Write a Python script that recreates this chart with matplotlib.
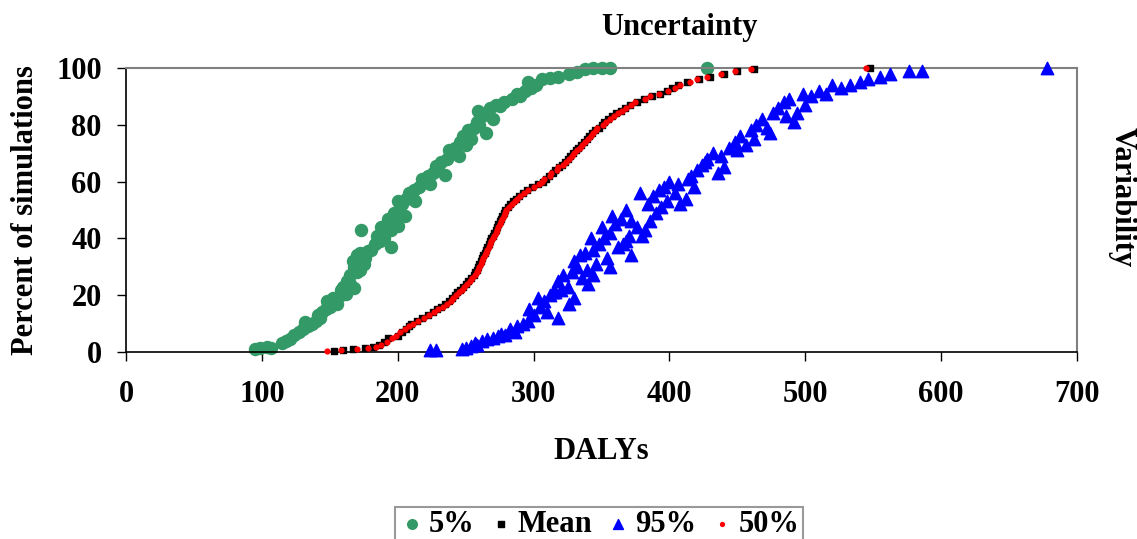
import numpy as np
import matplotlib.pyplot as plt

# values (DALYs, percent of simulations)
p5_x = [95, 99, 104, 107, 115, 118, 121, 124, 127, 130, 134, 137, 140, 132,
        141, 144, 147, 150, 143, 148, 152, 155, 158, 162, 158, 160, 165, 168, 163,
        165, 170, 168, 172, 175, 167, 170, 172, 176, 178, 180, 183, 187, 185, 190, 195,
        173, 188, 192, 195, 198, 200, 193, 197, 201, 205, 203, 200, 206, 210, 213, 208,
        212, 216, 220, 224, 218, 222, 226, 230, 235, 228, 232, 236, 240, 245, 238,
        242, 246, 250, 254, 248, 252, 256, 260, 265, 258, 262, 266, 259, 270, 268,
        272, 278, 284, 290, 275, 288, 294, 298, 302, 296, 306, 312, 318, 326, 332,
        338, 344, 350, 356, 428]
p5_y = [1.0, 1.5, 1.8, 1.5, 3, 4, 4.5, 6, 7, 8, 9, 10, 11, 10.5,
        13, 14, 15, 16, 12, 18, 19, 17, 20, 20.5, 22, 23, 24, 22.5, 25,
        27, 28, 30, 29, 31, 32, 34, 35, 33, 35.5, 36, 38, 39, 41, 40, 37,
        43, 44, 45, 43, 46, 44.5, 47, 49, 50, 48, 52, 53, 54, 55, 53, 56,
        57, 58, 60, 59, 61, 62, 63, 64, 62.5, 65.5, 67, 68, 70, 69, 71,
        72, 74, 73, 75, 76, 78, 79, 80, 77, 81, 83, 84, 85, 82, 86,
        87, 88, 89, 90, 86.5, 91, 92, 93, 94, 95, 96, 96.5, 97, 98, 98.5,
        99.5, 100, 100, 100, 100]

mean_x = [153, 160, 167, 176, 182, 186, 190, 193, 200, 203, 206, 208, 210, 214, 218,
          222, 226, 229, 232, 235, 238, 240, 242, 244, 246, 248, 250, 252, 254, 256,
          257, 258, 259, 260, 261, 262, 263, 264, 265, 266, 267, 268, 269, 270, 271,
          272, 273, 274, 275, 276, 277, 278, 279, 281, 283, 285, 287, 289, 292, 295,
          299, 303, 307, 309, 311, 314, 316, 319, 321, 323, 325, 327, 329, 331, 333,
          335, 337, 339, 341, 343, 345, 348, 350, 352, 355, 358, 361, 364, 367, 371,
          376, 381, 387, 393, 398, 402, 406, 413, 422, 430, 440, 450, 462, 548]
mean_y = [0.5, 0.7, 1, 1.3, 1.8, 2.5, 3.5, 5, 5.5, 7, 8, 9, 10, 11, 12,
          13, 14, 15, 16, 17, 18, 19, 20, 21, 22, 23, 24, 25, 26, 27,
          28, 29, 30, 31, 32, 33, 34, 35, 36, 37, 38, 39, 40, 41, 42,
          43, 44, 45, 46, 47, 48, 49, 50, 51, 52, 53, 54, 55, 56, 57,
          58, 59, 60, 61, 62, 63, 64, 65, 66, 67, 68, 69, 70, 71, 72,
          73, 74, 75, 76, 77, 78, 79, 80, 81, 82, 83, 84, 85, 86, 87,
          88, 89, 90, 91, 92, 93, 94, 95, 96, 97, 98, 99, 99.5, 100]

p95_x = [224, 228, 247, 250, 254, 257, 262, 266, 270, 274, 279, 283, 288, 292, 296,
         300, 297, 305, 308, 303, 312, 316, 320, 325, 318, 322, 328, 332, 336, 340,
         330, 334, 338, 344, 348, 342, 352, 356, 350, 360, 364, 358, 368, 372, 376,
         366, 372, 380, 384, 388, 378, 392, 396, 400, 404, 408, 386, 412, 416, 420,
         424, 428, 432, 436, 440, 444, 448, 452, 456, 460, 464, 468, 472, 476, 480,
         484, 488, 492, 494, 498, 504, 510, 515, 520, 526, 533, 540, 546, 555, 562,
         576, 586, 678,
         310, 326, 314, 339, 346, 354, 362, 370, 382, 390, 398, 406, 414, 426, 438,
         450, 462, 474, 486, 500, 258, 276, 286, 318, 330, 344, 356, 368, 394, 418]
p95_y = [0.7, 0.7, 1, 1.5, 2, 3, 4, 4.5, 5, 5.5, 6, 8, 9, 10, 11,
         13, 15, 16, 18, 19, 20, 21, 22, 23, 25, 27, 28, 30, 26, 24,
         32, 34, 35, 36, 38, 40, 40, 42, 44, 45, 47, 48, 50, 46, 44,
         38, 34, 41, 52, 55, 56, 57, 58, 60, 56, 52, 46, 54, 62, 64,
         66, 68, 70, 63, 65, 72, 74, 76, 73, 78, 80, 82, 79, 84, 86,
         88, 89, 81, 84, 91, 90, 92, 91, 94, 93, 94, 95, 96, 97, 98,
         99, 99, 100,
         14, 17, 21, 29, 31, 33, 37, 41, 43, 49, 53, 59, 61, 67, 69,
         71, 75, 77, 83, 87, 2.5, 6.5, 7, 12, 19, 27, 30, 39, 51, 58]

p50_x = [148, 158, 170, 178, 184, 188, 192, 196, 199, 202, 205, 208, 211, 215, 219,
         223, 227, 230, 233, 236, 239, 241, 243, 245, 247, 249, 251, 253, 255, 257,
         258, 259, 260, 261, 262, 263, 264, 265, 266, 267, 268, 269, 270, 271, 272,
         273, 274, 275, 276, 277, 278, 279, 280, 282, 284, 286, 288, 290, 293, 296,
         300, 304, 306, 308, 312, 313, 317, 318, 322, 324, 326, 328, 330, 332, 334,
         336, 338, 340, 342, 344, 346, 347, 351, 353, 356, 359, 362, 365, 368, 372,
         375, 382, 386, 392, 399, 404, 408, 415, 420, 428, 438, 448, 460, 545]
p50_y = mean_y

plt.rcParams['font.family'] = ['Liberation Serif', 'DejaVu Serif']
plt.rcParams['font.weight'] = 'bold'
fs = 22

fig = plt.figure(figsize=(11.37, 5.39), dpi=100)
ax = fig.add_axes([126/1137, 1-352/539, (1077-126)/1137, (352-68)/539])

ax.scatter(p5_x, p5_y, s=75, marker='o', color='#339966', label='5%', zorder=2, clip_on=False)
ax.scatter(mean_x, mean_y, s=22, marker='s', color='black', label='Mean', zorder=3, clip_on=False)
ax.scatter(p95_x, p95_y, s=80, marker='^', color='#0000ff', label='95%', zorder=4, clip_on=False)
ax.scatter(p50_x, p50_y, s=12, marker='o', color='#ff0000', label='50%', zorder=5, clip_on=False)

ax.set_xlim(0, 700)
ax.set_ylim(0, 100)
ax.set_xticks(np.arange(0, 701, 100))
ax.set_yticks(np.arange(0, 101, 20))
ax.tick_params(direction='out', length=6.5, width=1, labelsize=fs)
ax.tick_params(axis='x', pad=14)
ax.tick_params(axis='y', pad=11)

for side in ['top', 'right']:
    ax.spines[side].set_color('#808080')
    ax.spines[side].set_linewidth(1.5)
for side in ['left', 'bottom']:
    ax.spines[side].set_color('black')
    ax.spines[side].set_linewidth(1.2)

ax.set_xlabel('DALYs', fontsize=fs, fontweight='bold')
ax.xaxis.set_label_coords(0.5, (352-437)/284)
ax.set_ylabel('Percent of simulations', fontsize=fs, fontweight='bold')
ax.yaxis.set_label_coords((40-126)/951, 0.5)

fig.text(679/1137, 1-28/539, 'Uncertainty', fontsize=fs, fontweight='bold',
         ha='center', va='center')
fig.text(1122/1137, 1-197/539, 'Variability', fontsize=fs, fontweight='bold',
         ha='center', va='center', rotation=270)

leg = fig.legend(loc='upper center', bbox_to_anchor=(599/1137, 1-507/539), ncol=4,
                 frameon=True, fancybox=False, edgecolor='#808080', fontsize=fs,
                 handletextpad=0.1, columnspacing=0.4, borderpad=0.1,
                 handlelength=0.9, markerscale=0.8, borderaxespad=0)
leg.get_frame().set_linewidth(1.5)

fig.savefig('out.png', dpi=100)
